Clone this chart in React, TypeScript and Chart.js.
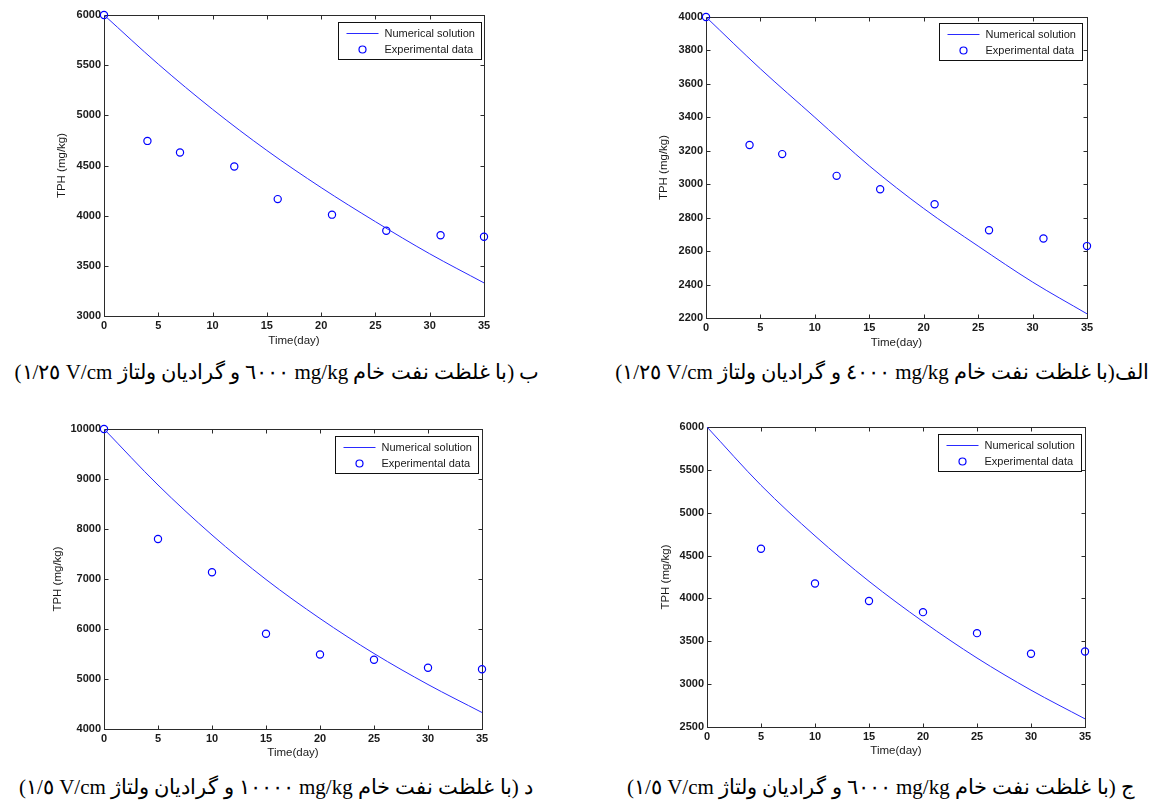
import React, { useEffect, useRef } from "react";
import { Chart, registerables } from "chart.js";

Chart.register(...registerables);

// ---------- DATA ----------
const numDays = [0, 5, 10, 15, 20, 25, 30, 35];
const xTickRange = [0, 35, 5];

// panel ب (top-left)
const numB = [6000, 5510, 5060, 4650, 4280, 3940, 3620, 3330];
const expDaysB = [0, 4, 7, 12, 16, 21, 26, 31, 35];
const expB = [6000, 4745, 4630, 4490, 4165, 4010, 3850, 3805, 3790];
const yRangeB = [3000, 6000, 500];

// panel الف (top-right)
const numA = [4000, 3690, 3400, 3110, 2855, 2630, 2415, 2225];
const expDaysA = [0, 4, 7, 12, 16, 21, 26, 31, 35];
const expA = [4000, 3235, 3180, 3050, 2970, 2880, 2725, 2675, 2630];
const yRangeA = [2200, 4000, 200];

// panel د (bottom-left)
const numD = [10000, 8880, 7880, 6990, 6210, 5510, 4890, 4330];
const expDaysD = [0, 5, 10, 15, 20, 25, 30, 35];
const expD = [10000, 7800, 7135, 5905, 5490, 5385, 5225, 5195];
const yRangeD = [4000, 10000, 1000];

// panel ج (bottom-right)
const numC = [6000, 5320, 4730, 4200, 3730, 3305, 2930, 2595];
const expDaysC = [5, 10, 15, 20, 25, 30, 35];
const expC = [4580, 4175, 3970, 3840, 3595, 3355, 3380];
const yRangeC = [2500, 6000, 500];

const legendLabels = ["Numerical solution", "Experimental data"];
const xTitle = "Time(day)";
const yTitle = "TPH (mg/kg)";

const captionB = "ب (با غلظت نفت خام mg/kg ٦٠٠٠ و گرادیان ولتاژ V/cm ١/٢٥)";
const captionA = "الف(با غلظت نفت خام mg/kg ٤٠٠٠ و گرادیان ولتاژ V/cm ١/٢٥)";
const captionD = "د (با غلظت نفت خام mg/kg ١٠٠٠٠ و گرادیان ولتاژ V/cm ١/٥)";
const captionC = "ج (با غلظت نفت خام mg/kg ٦٠٠٠ و گرادیان ولتاژ V/cm ١/٥)";

// ---------- STYLE ----------
const BLUE_LINE = "#2a2aff";
const BLUE_MARK = "#0000ff";
const AXIS_COLOR = "#2b2b2b";
const TEXT_COLOR = "#1a1a1a";
const SANS = '"Liberation Sans", Arial, Helvetica, sans-serif';

type Panel = {
  num: number[];
  expDays: number[];
  exp: number[];
  yRange: number[];
  canvas: { left: number; top: number; w: number; h: number };
  plot: { L: number; R: number; T: number; B: number };
  yTitleX: number;
  xTitleY: number;
  legend: { rOff: number; tOff: number };
};

const panels: Panel[] = [
  {
    num: numB, expDays: expDaysB, exp: expB, yRange: yRangeB,
    canvas: { left: 0, top: 0, w: 540, h: 352 },
    plot: { L: 104, R: 484, T: 15, B: 316 },
    yTitleX: 62, xTitleY: 341, legend: { rOff: 3, tOff: 7 },
  },
  {
    num: numA, expDays: expDaysA, exp: expA, yRange: yRangeA,
    canvas: { left: 580, top: 0, w: 540, h: 352 },
    plot: { L: 706, R: 1087, T: 17, B: 318 },
    yTitleX: 664, xTitleY: 343, legend: { rOff: 5, tOff: 6 },
  },
  {
    num: numD, expDays: expDaysD, exp: expD, yRange: yRangeD,
    canvas: { left: 0, top: 400, w: 540, h: 366 },
    plot: { L: 104, R: 482, T: 429, B: 729 },
    yTitleX: 58, xTitleY: 753, legend: { rOff: 4, tOff: 7 },
  },
  {
    num: numC, expDays: expDaysC, exp: expC, yRange: yRangeC,
    canvas: { left: 580, top: 400, w: 540, h: 366 },
    plot: { L: 707, R: 1085, T: 427, B: 727 },
    yTitleX: 666, xTitleY: 751, legend: { rOff: 4.5, tOff: 7 },
  },
];

const captions = [
  { text: captionB, cx: 277, cy: 372 },
  { text: captionA, cx: 882, cy: 372 },
  { text: captionD, cx: 276, cy: 787 },
  { text: captionC, cx: 881, cy: 787 },
];

const framePlugin = {
  id: "matlabFrame",
  beforeDatasetsDraw(chart: any) {
    const { ctx, chartArea: a, scales } = chart;
    ctx.save();
    ctx.strokeStyle = AXIS_COLOR;
    ctx.lineWidth = 1;
    const L = Math.round(a.left) + 0.5;
    const R = Math.round(a.right) + 0.5;
    const T = Math.round(a.top) + 0.5;
    const B = Math.round(a.bottom) + 0.5;
    ctx.strokeRect(L, T, R - L, B - T);
    ctx.beginPath();
    const tl = 4;
    scales.x.ticks.forEach((t: any) => {
      const px = Math.round(scales.x.getPixelForValue(t.value)) + 0.5;
      ctx.moveTo(px, B);
      ctx.lineTo(px, B - tl);
      ctx.moveTo(px, T);
      ctx.lineTo(px, T + tl);
    });
    scales.y.ticks.forEach((t: any) => {
      const py = Math.round(scales.y.getPixelForValue(t.value)) + 0.5;
      ctx.moveTo(L, py);
      ctx.lineTo(L + tl, py);
      ctx.moveTo(R, py);
      ctx.lineTo(R - tl, py);
    });
    ctx.stroke();
    ctx.restore();
  },
  afterDraw(chart: any, _args: any, opts: any) {
    const { ctx, chartArea: a } = chart;
    ctx.save();
    ctx.font = `11px ${SANS}`;
    const tw = Math.max(...legendLabels.map((t) => ctx.measureText(t).width));
    const w = Math.round(46 + tw + 7);
    const h = 37;
    const x0 = Math.round(a.right - opts.rOff - w) + 0.5;
    const y0 = Math.round(a.top + opts.tOff) + 0.5;
    ctx.fillStyle = "#fff";
    ctx.fillRect(x0, y0, w, h);
    ctx.strokeStyle = "#111";
    ctx.lineWidth = 1;
    ctx.strokeRect(x0, y0, w, h);
    ctx.strokeStyle = BLUE_LINE;
    ctx.beginPath();
    ctx.moveTo(x0 + 8, y0 + 11);
    ctx.lineTo(x0 + 40, y0 + 11);
    ctx.stroke();
    ctx.strokeStyle = BLUE_MARK;
    ctx.lineWidth = 1.2;
    ctx.beginPath();
    ctx.arc(x0 + 24, y0 + 27, 3.5, 0, Math.PI * 2);
    ctx.stroke();
    ctx.fillStyle = TEXT_COLOR;
    ctx.textBaseline = "middle";
    ctx.textAlign = "left";
    ctx.fillText(legendLabels[0], x0 + 46, y0 + 11);
    ctx.fillText(legendLabels[1], x0 + 46, y0 + 27);
    ctx.restore();
  },
};

function PanelChart({ p }: { p: Panel }) {
  const ref = useRef<HTMLCanvasElement | null>(null);
  useEffect(() => {
    const c = p.canvas;
    const lh = 11.5 * 1.2;
    const yWidth = p.plot.L - c.left;
    const xHeight = c.top + c.h - p.plot.B;
    const chart = new Chart(ref.current as HTMLCanvasElement, {
      type: "line",
      data: {
        datasets: [
          {
            label: legendLabels[0],
            data: numDays.map((d, i) => ({ x: d, y: p.num[i] })),
            borderColor: BLUE_LINE,
            borderWidth: 1,
            pointRadius: 0,
            cubicInterpolationMode: "monotone",
            fill: false,
          },
          {
            label: legendLabels[1],
            data: p.expDays.map((d, i) => ({ x: d, y: p.exp[i] })),
            showLine: false,
            pointRadius: 3.6,
            pointBorderWidth: 1.2,
            pointBorderColor: BLUE_MARK,
            pointBackgroundColor: "rgba(0,0,0,0)",
            clip: false,
          },
        ],
      } as any,
      options: {
        responsive: false,
        animation: false,
        devicePixelRatio: 1,
        layout: {
          padding: {
            left: 0,
            top: p.plot.T - c.top,
            right: c.left + c.w - p.plot.R,
            bottom: 0,
          },
        },
        plugins: {
          legend: { display: false },
          tooltip: { enabled: false },
          matlabFrame: p.legend,
        } as any,
        scales: {
          x: {
            type: "linear",
            min: xTickRange[0],
            max: xTickRange[1],
            ticks: {
              stepSize: xTickRange[2],
              padding: 3,
              color: TEXT_COLOR,
              font: { family: SANS, size: 11, weight: "bold" },
              maxRotation: 0,
              autoSkip: false,
              callback: (v: any) => String(v),
            },
            grid: { display: false, drawTicks: false },
            border: { display: false },
            title: {
              display: true,
              text: xTitle,
              color: TEXT_COLOR,
              font: { family: SANS, size: 11.5 },
              padding: { top: 0, bottom: c.top + c.h - p.xTitleY - lh / 2 },
            },
            afterFit: (s: any) => {
              s.height = xHeight;
            },
          },
          y: {
            type: "linear",
            min: p.yRange[0],
            max: p.yRange[1],
            ticks: {
              stepSize: p.yRange[2],
              padding: 3,
              color: TEXT_COLOR,
              font: { family: SANS, size: 11, weight: "bold" },
              autoSkip: false,
              callback: (v: any) => String(v),
            },
            grid: { display: false, drawTicks: false },
            border: { display: false },
            title: {
              display: true,
              text: yTitle,
              color: TEXT_COLOR,
              font: { family: SANS, size: 11.5 },
              padding: { top: p.yTitleX - c.left - lh / 2, bottom: 0 },
            },
            afterFit: (s: any) => {
              s.width = yWidth;
            },
          },
        },
      } as any,
      plugins: [framePlugin as any],
    });
    return () => chart.destroy();
  }, [p]);
  return (
    <canvas
      ref={ref}
      width={p.canvas.w}
      height={p.canvas.h}
      style={{
        position: "absolute",
        left: p.canvas.left,
        top: p.canvas.top,
        width: p.canvas.w,
        height: p.canvas.h,
      }}
    />
  );
}

export default function App() {
  return (
    <div
      style={{
        position: "absolute",
        left: 0,
        top: 0,
        width: 1160,
        height: 800,
        background: "#fff",
        overflow: "hidden",
      }}
    >
      {panels.map((p, i) => (
        <PanelChart key={i} p={p} />
      ))}
      {captions.map((c, i) => (
        <div
          key={"c" + i}
          dir="rtl"
          style={{
            position: "absolute",
            left: c.cx - 320,
            top: c.cy - 16,
            width: 640,
            height: 32,
            lineHeight: "32px",
            textAlign: "center",
            whiteSpace: "nowrap",
            fontFamily: '"Times New Roman", "Liberation Serif", "DejaVu Serif", serif',
            fontSize: 21,
            color: "#000",
          }}
        >
          {c.text}
        </div>
      ))}
    </div>
  );
}
